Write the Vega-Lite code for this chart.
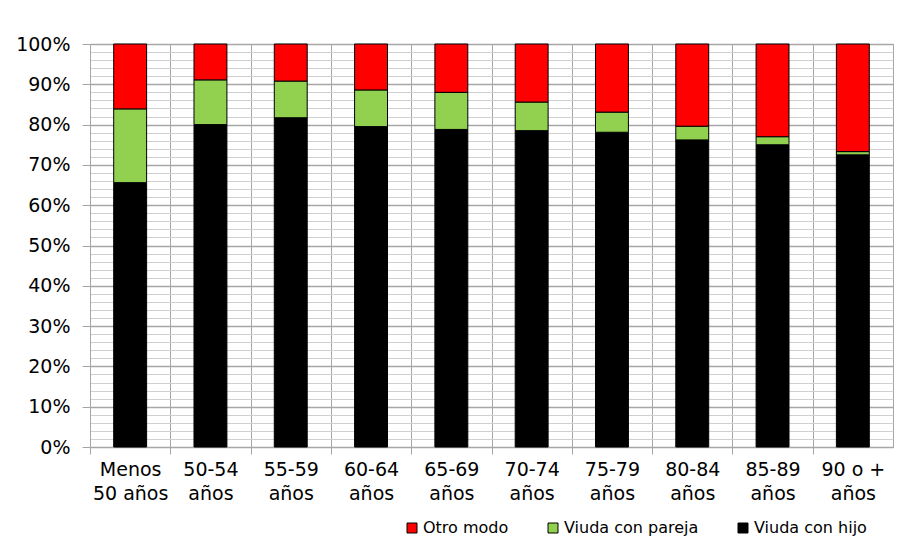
{
  "$schema": "https://vega.github.io/schema/vega-lite/v6.json",
  "autosize": "none",
  "width": 803,
  "height": 403,
  "padding": {"left": 90, "top": 44, "right": 11, "bottom": 96},
  "background": "white",
  "config": {
    "view": {"stroke": "#a6a6a6", "strokeWidth": 1},
    "font": "DejaVu Sans"
  },
  "data": {
    "values": [
      {"edad": "Menos 50 años", "modo": "Viuda con hijo", "orden": 1, "pct": 65.6},
      {"edad": "Menos 50 años", "modo": "Viuda con pareja", "orden": 2, "pct": 18.3},
      {"edad": "Menos 50 años", "modo": "Otro modo", "orden": 3, "pct": 16.1},
      {"edad": "50-54 años", "modo": "Viuda con hijo", "orden": 1, "pct": 80.0},
      {"edad": "50-54 años", "modo": "Viuda con pareja", "orden": 2, "pct": 11.1},
      {"edad": "50-54 años", "modo": "Otro modo", "orden": 3, "pct": 8.9},
      {"edad": "55-59 años", "modo": "Viuda con hijo", "orden": 1, "pct": 81.7},
      {"edad": "55-59 años", "modo": "Viuda con pareja", "orden": 2, "pct": 9.1},
      {"edad": "55-59 años", "modo": "Otro modo", "orden": 3, "pct": 9.2},
      {"edad": "60-64 años", "modo": "Viuda con hijo", "orden": 1, "pct": 79.5},
      {"edad": "60-64 años", "modo": "Viuda con pareja", "orden": 2, "pct": 9.1},
      {"edad": "60-64 años", "modo": "Otro modo", "orden": 3, "pct": 11.4},
      {"edad": "65-69 años", "modo": "Viuda con hijo", "orden": 1, "pct": 78.8},
      {"edad": "65-69 años", "modo": "Viuda con pareja", "orden": 2, "pct": 9.2},
      {"edad": "65-69 años", "modo": "Otro modo", "orden": 3, "pct": 12.0},
      {"edad": "70-74 años", "modo": "Viuda con hijo", "orden": 1, "pct": 78.5},
      {"edad": "70-74 años", "modo": "Viuda con pareja", "orden": 2, "pct": 7.1},
      {"edad": "70-74 años", "modo": "Otro modo", "orden": 3, "pct": 14.4},
      {"edad": "75-79 años", "modo": "Viuda con hijo", "orden": 1, "pct": 78.1},
      {"edad": "75-79 años", "modo": "Viuda con pareja", "orden": 2, "pct": 5.0},
      {"edad": "75-79 años", "modo": "Otro modo", "orden": 3, "pct": 16.9},
      {"edad": "80-84 años", "modo": "Viuda con hijo", "orden": 1, "pct": 76.2},
      {"edad": "80-84 años", "modo": "Viuda con pareja", "orden": 2, "pct": 3.4},
      {"edad": "80-84 años", "modo": "Otro modo", "orden": 3, "pct": 20.4},
      {"edad": "85-89 años", "modo": "Viuda con hijo", "orden": 1, "pct": 75.0},
      {"edad": "85-89 años", "modo": "Viuda con pareja", "orden": 2, "pct": 2.0},
      {"edad": "85-89 años", "modo": "Otro modo", "orden": 3, "pct": 23.0},
      {"edad": "90 o + años", "modo": "Viuda con hijo", "orden": 1, "pct": 72.5},
      {"edad": "90 o + años", "modo": "Viuda con pareja", "orden": 2, "pct": 0.8},
      {"edad": "90 o + años", "modo": "Otro modo", "orden": 3, "pct": 26.7}
    ]
  },
  "mark": {"type": "bar", "stroke": "#000000", "strokeWidth": 1},
  "encoding": {
    "x": {
      "field": "edad", "type": "nominal", "sort": null,
      "scale": {"paddingInner": 0.59, "paddingOuter": 0.295},
      "axis": {
        "orient": "bottom", "title": null,
        "grid": true, "gridColor": "#a6a6a6", "gridWidth": 1,
        "ticks": true, "tickColor": "#a6a6a6", "tickSize": 7,
        "tickOffset": -40.15, "labelOffset": 40.15,
        "domainColor": "#a6a6a6", "labelAngle": 0,
        "labelFont": "DejaVu Sans", "labelFontSize": 19, "labelColor": "#000000",
        "labelPadding": 6, "labelLineHeight": 24, "labelBaseline": "top",
        "labelExpr": "datum.value === 'Menos 50 años' ? ['Menos', '50 años'] : [slice(datum.value, 0, lastindexof(datum.value, ' ')), slice(datum.value, lastindexof(datum.value, ' ') + 1)]"
      }
    },
    "y": {
      "field": "pct", "type": "quantitative", "stack": "normalize",
      "scale": {"domain": [0, 1], "nice": false},
      "axis": {
        "title": null,
        "values": [0, 0.02, 0.04, 0.06, 0.08, 0.1, 0.12, 0.14, 0.16, 0.18, 0.2, 0.22, 0.24, 0.26, 0.28, 0.3, 0.32, 0.34, 0.36, 0.38, 0.4, 0.42, 0.44, 0.46, 0.48, 0.5, 0.52, 0.54, 0.56, 0.58, 0.6, 0.62, 0.64, 0.66, 0.68, 0.7, 0.72, 0.74, 0.76, 0.78, 0.8, 0.82, 0.84, 0.86, 0.88, 0.9, 0.92, 0.94, 0.96, 0.98, 1],
        "labelExpr": "round(datum.value * 100) % 10 === 0 ? round(datum.value * 100) + '%' : ''",
        "grid": true,
        "gridColor": {"condition": {"test": "round(datum.value * 100) % 10 === 0", "value": "#a6a6a6"}, "value": "#d0d0d0"},
        "gridWidth": {"condition": {"test": "round(datum.value * 100) % 10 === 0", "value": 1.5}, "value": 1},
        "tickColor": {"condition": {"test": "round(datum.value * 100) % 10 === 0", "value": "#a6a6a6"}, "value": "transparent"},
        "tickSize": 8,
        "domainColor": "#a6a6a6",
        "labelFont": "DejaVu Sans", "labelFontSize": 19, "labelColor": "#000000",
        "labelPadding": 12, "labelOverlap": false
      }
    },
    "color": {
      "field": "modo", "type": "nominal",
      "scale": {"domain": ["Otro modo", "Viuda con pareja", "Viuda con hijo"], "range": ["#ff0000", "#92d050", "#000000"]},
      "legend": {
        "title": null, "orient": "none", "direction": "horizontal",
        "legendX": 314, "legendY": 476,
        "symbolType": "square", "symbolSize": 100, "symbolStrokeColor": "#000000", "symbolStrokeWidth": 1,
        "symbolOpacity": 1,
        "labelFont": "DejaVu Sans", "labelFontSize": 16, "labelColor": "#000000",
        "labelOffset": 3, "columnPadding": 36
      }
    },
    "order": {"field": "orden", "type": "quantitative"}
  }
}
